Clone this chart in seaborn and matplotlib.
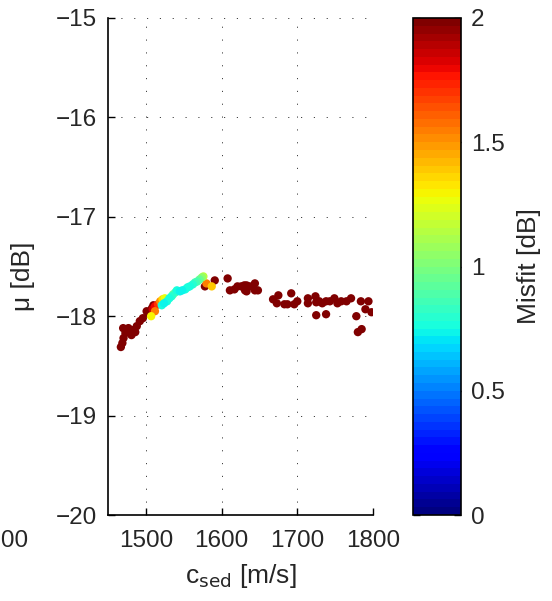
import numpy as np
import pandas as pd
import matplotlib
matplotlib.use("Agg")
import matplotlib.pyplot as plt
import matplotlib as mpl
import seaborn as sns

# ---- data ----
c_red = [1467, 1469, 1470.5, 1473, 1470, 1477, 1483, 1481, 1486, 1488, 1492, 1496,
         1503, 1501, 1508, 1510, 1578, 1591, 1608, 1611, 1617, 1621, 1630, 1633,
         1626, 1631, 1633, 1637, 1644, 1644, 1648, 1668, 1675, 1673, 1683, 1687,
         1692, 1696, 1700, 1714, 1714, 1724, 1725, 1729, 1725, 1733, 1738, 1738,
         1743, 1749, 1753, 1758, 1765, 1771, 1778, 1784, 1790, 1794, 1798, 1780, 1785]
mu_red = [-18.31, -18.27, -18.22, -18.17, -18.12, -18.12, -18.14, -18.19, -18.16, -18.10,
          -18.05, -18.02, -17.97, -17.95, -17.92, -17.89, -17.70, -17.64, -17.62, -17.74,
          -17.73, -17.70, -17.69, -17.75, -17.70, -17.74, -17.69, -17.70, -17.67, -17.74,
          -17.74, -17.83, -17.79, -17.87, -17.88, -17.88, -17.77, -17.88, -17.85, -17.82,
          -17.87, -17.80, -17.86, -17.85, -17.99, -17.87, -17.85, -17.98, -17.85, -17.82,
          -17.87, -17.85, -17.85, -17.82, -18.00, -17.85, -17.93, -17.85, -17.96, -18.16, -18.13]
mis_red = [2.0] * len(c_red)

c_col = [1507, 1512, 1512, 1516, 1519, 1522, 1525, 1509, 1521, 1524, 1528, 1531, 1534,
         1536, 1539, 1541, 1545, 1548, 1552, 1555, 1558, 1562, 1565, 1568, 1571, 1574,
         1576, 1580, 1587]
mu_col = [-18.00, -17.95, -17.90, -17.88, -17.85, -17.83, -17.82, -17.93, -17.89, -17.87,
          -17.85, -17.82, -17.80, -17.78, -17.76, -17.74, -17.75, -17.74, -17.73, -17.71,
          -17.70, -17.68, -17.66, -17.65, -17.63, -17.61, -17.60, -17.67, -17.70]
mis_col = [1.3, 1.55, 1.8, 1.7, 1.5, 1.35, 1.25, 1.85, 0.75, 0.72, 0.75, 0.78, 0.80,
           0.95, 0.85, 0.75, 0.72, 0.74, 0.76, 0.78, 0.76, 0.80, 0.85, 0.90, 0.95, 1.05,
           1.15, 1.55, 1.4]

x_ticks = [1500, 1600, 1700, 1800]
y_ticks = [-20, -19, -18, -17, -16, -15]
cb_ticks = [0, 0.5, 1, 1.5, 2]
cb_labels = ["0", "0.5", "1", "1.5", "2"]

df = pd.DataFrame({"c": c_red + c_col, "mu": mu_red + mu_col, "misfit": mis_red + mis_col})
df = df.sort_values("misfit", ascending=False, kind="stable")

sns.set_style("white")
plt.rcParams["font.family"] = ["Liberation Sans", "DejaVu Sans"]
plt.rcParams["axes.unicode_minus"] = True

TICK_FS = 17.5
LAB_FS = 19
W, H = 552, 601
fig = plt.figure(figsize=(W / 100, H / 100), dpi=100)

cmap = plt.get_cmap("jet", 64)
norm = mpl.colors.Normalize(0, 2)

grid_kw = dict(color="0.25", linestyle=(0, (1.2, 12)), linewidth=0.7)

def px_rect(l, t, r, b):
    return [l / W, 1 - b / H, (r - l) / W, (b - t) / H]

# partial neighbouring panel cut off at the left edge
ax0 = fig.add_axes(px_rect(-264, 18, 1, 515))
ax0.set_xlim(1450, 1800)
ax0.set_ylim(-20, -15)
ax0.set_xticks(x_ticks)
ax0.set_yticks([])
for s in ax0.spines.values():
    s.set_visible(False)
ax0.tick_params(axis="x", length=0, labelsize=TICK_FS, pad=11)
ax0.grid(True, axis="x", **grid_kw)
ax0.patch.set_alpha(0)

# main panel
ax = fig.add_axes(px_rect(108, 18, 373, 515))
sns.scatterplot(data=df, x="c", y="mu", hue="misfit", palette=cmap, hue_norm=norm,
                legend=False, s=36, linewidth=0, ax=ax, zorder=3)
ax.set_xlim(1450, 1800)
ax.set_ylim(-20, -15)
ax.set_xticks(x_ticks)
ax.set_yticks(y_ticks)
ax.grid(True, **grid_kw)
for side in ["top", "right"]:
    ax.spines[side].set_visible(False)
for side in ["left", "bottom"]:
    ax.spines[side].set_color("black")
    ax.spines[side].set_linewidth(1.2)
ax.tick_params(direction="in", length=5, width=1, labelsize=TICK_FS, color="black",
               bottom=True, left=True)
ax.tick_params(axis="x", pad=11)
ax.tick_params(axis="y", pad=8)
ax.set_xlabel(r"c$_{\mathrm{sed}}$ [m/s]", fontsize=LAB_FS, labelpad=7)
ax.set_ylabel("μ [dB]", fontsize=LAB_FS)
ax.yaxis.set_label_coords(-0.275, 0.48)

# colorbar
cax = fig.add_axes(px_rect(413, 18, 461, 515))
sm = mpl.cm.ScalarMappable(norm=norm, cmap=cmap)
cb = fig.colorbar(sm, cax=cax, ticks=cb_ticks)
cb.ax.set_yticklabels(cb_labels)
cb.outline.set_linewidth(1.2)
cb.outline.set_edgecolor("black")
cax.tick_params(direction="in", length=5, width=1, left=True, right=True,
                labelsize=TICK_FS, pad=7, color="black")
cb.set_label("Misfit [dB]", fontsize=LAB_FS, labelpad=9)

fig.savefig("out.png", dpi=100)
